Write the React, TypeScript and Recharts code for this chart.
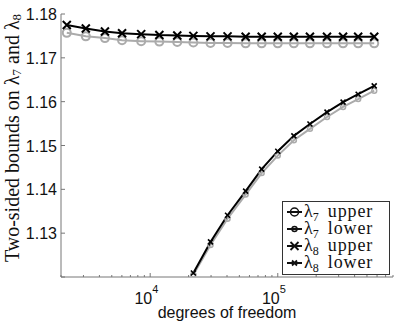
import { Legend, Line, LineChart, XAxis, YAxis } from "recharts";

const DOF = [2220, 3130, 4420, 6020, 8500, 11800, 16300, 21800, 29700, 40400, 56000, 74800, 100000, 133700, 178700, 243100, 324900, 426600, 570000];
const L7_UPPER = [1.1757, 1.1749, 1.1745, 1.174, 1.1738, 1.1737, 1.1736, 1.1735, 1.1734, 1.1734, 1.1733, 1.1733, 1.1733, 1.1733, 1.1733, 1.1733, 1.1733, 1.1733, 1.1733];
const L8_UPPER = [1.1775, 1.1767, 1.176, 1.1756, 1.1754, 1.1752, 1.1751, 1.175, 1.1749, 1.1749, 1.1748, 1.1748, 1.1748, 1.1748, 1.1748, 1.1748, 1.1748, 1.1748, 1.1748];
const L7_LOWER = [null, null, null, null, null, null, null, 1.1205, 1.1273, 1.1333, 1.1388, 1.1437, 1.1477, 1.1512, 1.1538, 1.1565, 1.1588, 1.1606, 1.1625];
const L8_LOWER = [null, null, null, null, null, null, null, 1.1209, 1.128, 1.1341, 1.1396, 1.1446, 1.1487, 1.1522, 1.1549, 1.1576, 1.1599, 1.1617, 1.1636];

const X_MAJOR = [10000, 100000];
const X_TICKS = [2000, 3000, 4000, 5000, 6000, 7000, 8000, 9000, 10000, 20000, 30000, 40000, 50000, 60000, 70000, 80000, 90000, 100000, 200000, 300000, 400000, 500000, 600000, 700000, 800000];
const Y_TICKS = [1.12, 1.13, 1.14, 1.15, 1.16, 1.17, 1.18];
const Y_LABELED = ["1.13", "1.14", "1.15", "1.16", "1.17", "1.18"];

const data = DOF.map((d, i) => ({ d, l7u: L7_UPPER[i], l8u: L8_UPPER[i], l7l: L7_LOWER[i], l8l: L8_LOWER[i] }));

const GRAY = "#ababab";
const SANS = "Liberation Sans, Arial, sans-serif";
const SERIF = "Liberation Serif, Times New Roman, serif";

function cross(p: any, r: number, w: number, color: string) {
  if (p.cx == null || p.cy == null || p.value == null) return <g key={p.key ?? p.index} />;
  const { cx, cy } = p;
  return <path key={p.key ?? p.index} d={`M${cx - r},${cy - r}L${cx + r},${cy + r}M${cx - r},${cy + r}L${cx + r},${cy - r}`} stroke={color} strokeWidth={w} fill="none" />;
}

function ring(p: any, r: number, w: number, color: string) {
  if (p.cx == null || p.cy == null || p.value == null) return <g key={p.key ?? p.index} />;
  return <circle key={p.key ?? p.index} cx={p.cx} cy={p.cy} r={r} stroke={color} strokeWidth={w} fill="none" />;
}

const BottomTick = ({ x, y, payload }: any) => {
  const major = X_MAJOR.includes(payload.value);
  return (
    <g>
      <line x1={x} x2={x} y1={y} y2={y - (major ? 4 : 2)} stroke="#777" />
      {major && (
        <text x={x - 15.8} y={y + 27} fontSize={16} fontFamily={SANS} fill="#111">
          10<tspan fontSize={11} dy={-11}>{Math.round(Math.log10(payload.value))}</tspan>
        </text>
      )}
    </g>
  );
};

const TopTick = ({ x, y, payload }: any) => {
  const major = X_MAJOR.includes(payload.value);
  return <line x1={x} x2={x} y1={y} y2={y + (major ? 4 : 2)} stroke="#555" />;
};

const LeftTick = ({ x, y, payload }: any) => {
  const label = payload.value.toFixed(2);
  return (
    <g>
      <line x1={x} x2={x + 4} y1={y} y2={y} stroke="#777" />
      {Y_LABELED.includes(label) && (
        <text x={x - 4} y={y + 6} textAnchor="end" fontSize={16} fontFamily={SANS} fill="#111">{label}</text>
      )}
    </g>
  );
};

const RightTick = ({ x, y }: any) => <line x1={x} x2={x - 4} y1={y} y2={y} stroke="#555" />;

const LEGEND_ROWS = [
  { sub: "7", word: "upper", kind: "ring", r: 4 },
  { sub: "7", word: "lower", kind: "ring", r: 2.5 },
  { sub: "8", word: "upper", kind: "cross", r: 4 },
  { sub: "8", word: "lower", kind: "cross", r: 2.5 },
];

const LegendBox = () => (
  <svg width={108} height={74} style={{ display: "block" }}>
    <rect x={0.5} y={0.5} width={107} height={73} fill="#fff" stroke="#333" />
    {LEGEND_ROWS.map((row, i) => {
      const cy = 11 + i * 17;
      return (
        <g key={i}>
          <line x1={5} x2={20} y1={cy} y2={cy} stroke="#111" strokeWidth={2} />
          {row.kind === "ring"
            ? ring({ cx: 12.5, cy, value: 1, index: i }, row.r, 1.5, "#111")
            : cross({ cx: 12.5, cy, value: 1, index: i }, row.r, 1.8, "#111")}
          <text x={22} y={cy + 5} fontSize={18} fontFamily={SERIF} fill="#111">
            λ<tspan fontSize={12} dy={4}>{row.sub}</tspan>
            <tspan dy={-4} dx={9} letterSpacing={0.9}>{row.word}</tspan>
          </text>
        </g>
      );
    })}
  </svg>
);

export default function App() {
  return (
    <div style={{ position: "absolute", left: 0, top: 0, width: 399, height: 325, background: "#fff" }}>
      <LineChart width={399} height={325} data={data} margin={{ top: 14, right: 6, left: 0, bottom: 0 }}>
        <XAxis
          dataKey="d"
          type="number"
          scale="log"
          domain={[2000, 800000]}
          allowDataOverflow
          ticks={X_TICKS}
          interval={0}
          height={48}
          tickSize={0}
          tickMargin={0}
          tickLine={false}
          axisLine={{ stroke: "#777" }}
          tick={<BottomTick />}
          label={{
            content: () => (
              <text x={227} y={318} textAnchor="middle" fontSize={16} fontFamily={SANS} fill="#111">degrees of freedom</text>
            ),
          }}
        />
        <XAxis
          xAxisId="top"
          orientation="top"
          dataKey="d"
          type="number"
          scale="log"
          domain={[2000, 800000]}
          allowDataOverflow
          ticks={X_TICKS}
          interval={0}
          height={0}
          tickSize={0}
          tickMargin={0}
          tickLine={false}
          axisLine={{ stroke: "#444" }}
          tick={<TopTick />}
        />
        <YAxis
          type="number"
          domain={[1.12, 1.18]}
          allowDataOverflow
          ticks={Y_TICKS}
          interval={0}
          width={61}
          tickSize={0}
          tickMargin={0}
          tickLine={false}
          axisLine={{ stroke: "#777" }}
          tick={<LeftTick />}
          label={{
            content: () => (
              <text
                x={12}
                y={138}
                transform="rotate(-90 12 138)"
                textAnchor="middle"
                dominantBaseline="central"
                fontSize={20}
                fontFamily={SERIF}
                fill="#111"
              >
                Two-sided bounds on λ<tspan fontSize={13} dy={4}>7</tspan>
                <tspan dy={-4}> and λ</tspan>
                <tspan fontSize={13} dy={4}>8</tspan>
              </text>
            ),
          }}
        />
        <YAxis
          yAxisId="right"
          orientation="right"
          type="number"
          domain={[1.12, 1.18]}
          allowDataOverflow
          ticks={Y_TICKS}
          interval={0}
          width={0}
          tickSize={0}
          tickMargin={0}
          tickLine={false}
          axisLine={{ stroke: "#444" }}
          tick={<RightTick />}
        />
        <Line dataKey="l7u" stroke={GRAY} strokeWidth={2} isAnimationActive={false} dot={(p: any) => ring(p, 4, 2, GRAY)} />
        <Line dataKey="l7l" stroke={GRAY} strokeWidth={2} isAnimationActive={false} dot={(p: any) => ring(p, 2.5, 1.5, GRAY)} />
        <Line dataKey="l8u" stroke="#000" strokeWidth={2} isAnimationActive={false} dot={(p: any) => cross(p, 4, 2, "#000")} />
        <Line dataKey="l8l" stroke="#000" strokeWidth={2} isAnimationActive={false} dot={(p: any) => cross(p, 2.5, 1.6, "#000")} />
        <Legend
          layout="vertical"
          align="center"
          verticalAlign="middle"
          wrapperStyle={{ left: 282, top: 201, width: 108, height: 74 }}
          content={() => <LegendBox />}
        />
      </LineChart>
    </div>
  );
}
